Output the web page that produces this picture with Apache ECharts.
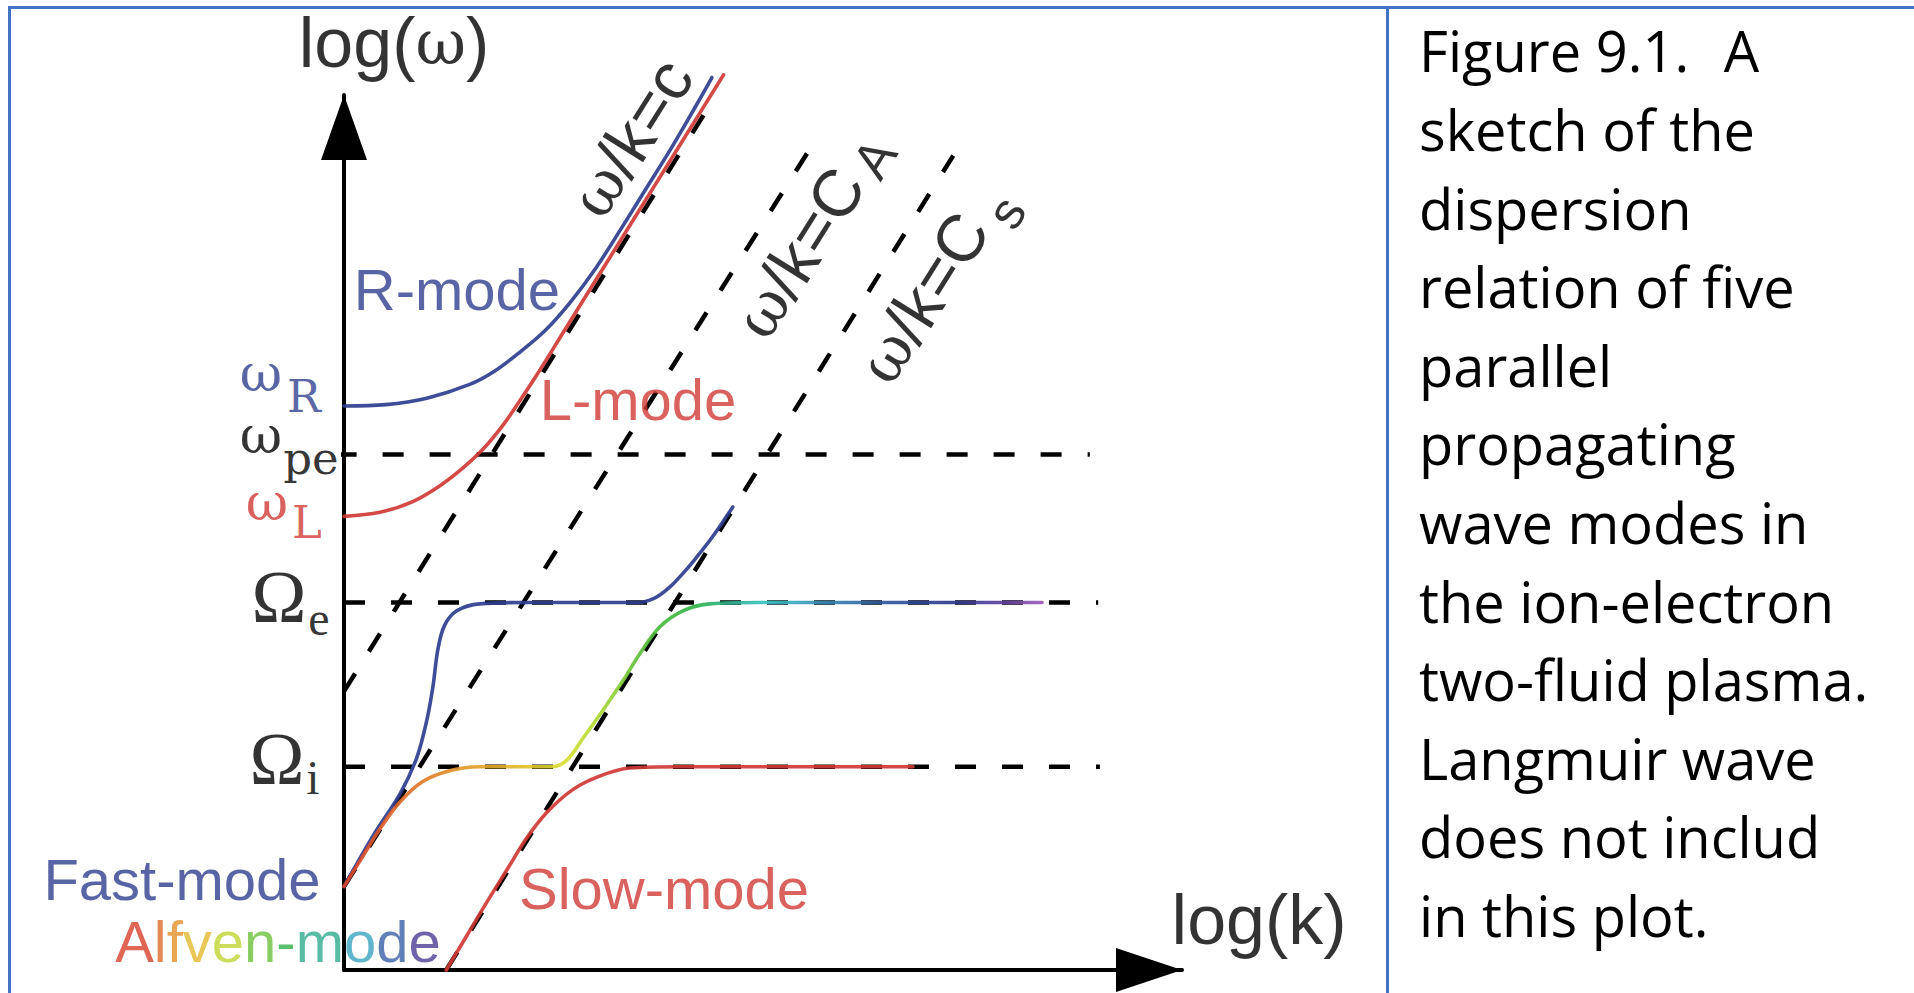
<!DOCTYPE html>
<html><head><meta charset="utf-8">
<script src="https://cdn.jsdelivr.net/npm/echarts@6/dist/echarts.min.js"></script>
<style>
html,body{margin:0;padding:0;background:#fff;}
#frame{position:absolute;left:0;top:0;width:1914px;height:993px;overflow:hidden;background:#fff;}
#chart{position:absolute;left:0;top:0;width:1914px;height:993px;}
.b{position:absolute;background:#4472c4;}
</style></head><body>
<div id="frame">
<div class="b" style="left:8px;top:6px;width:1906px;height:3px"></div>
<div class="b" style="left:8px;top:6px;width:3px;height:987px"></div>
<div class="b" style="left:1386px;top:6px;width:3px;height:987px"></div>
<div id="chart"></div>
</div>
<script>
// ---------- data (x = log k, y = log omega, arbitrary log units) ----------
const levelMain = ['ω', 'ω', 'ω', 'Ω', 'Ω'];
const levelSub = ['R', 'pe', 'L', 'e', 'i'];
const levelValues = [4.19, 3.83, 3.37, 2.73, 1.51];
const dashedLevelIdx = [1, 3, 4];           // omega_pe, Omega_e, Omega_i
const dashedLevelStart = [-0.1, 0, 0];
const dashedLevelEnd = [8.9, 9.0, 9.02];

const cLine = [[0, 2.07], [4.40, 6.46]];      // w/k = c
const caLine = [[0, 0.62], [5.55, 6.09]];     // w/k = C_A
const csLine = [[1.22, 0], [7.27, 6.05]];     // w/k = C_s

const rMode = [[0, 4.19], [0.5, 4.20], [1.0, 4.25], [1.5, 4.35], [1.8, 4.45], [2.1, 4.59], [2.4, 4.75], [2.7, 4.96], [3.0, 5.21], [3.3, 5.50], [3.6, 5.80], [3.9, 6.10], [4.2, 6.42], [4.39, 6.63]];
const lMode = [[0, 3.37], [0.43, 3.40], [0.82, 3.48], [1.15, 3.60], [1.42, 3.73], [1.66, 3.87], [1.90, 4.05], [2.10, 4.23], [2.30, 4.42], [2.61, 4.73], [2.97, 5.09], [3.29, 5.41], [3.69, 5.81], [4.09, 6.21], [4.53, 6.65]];
const fastMode = [[0, 0.62], [0.35, 1.00], [0.67, 1.31], [0.87, 1.58], [0.99, 1.86], [1.06, 2.10], [1.12, 2.38], [1.20, 2.56], [1.35, 2.67], [1.62, 2.72], [2.2, 2.73], [3.0, 2.73], [3.5, 2.73], [3.7, 2.76], [3.88, 2.84], [4.05, 2.95], [4.2, 3.06], [4.4, 3.22], [4.64, 3.44]];
const alfvenMode = [[0, 0.62], [0.20, 0.82], [0.43, 1.05], [0.67, 1.25], [0.94, 1.40], [1.26, 1.48], [1.62, 1.51], [2.0, 1.51], [2.49, 1.51], [2.66, 1.56], [2.85, 1.72], [3.09, 1.93], [3.33, 2.15], [3.53, 2.35], [3.77, 2.55], [4.05, 2.67], [4.37, 2.72], [4.96, 2.73], [6.0, 2.73], [7.0, 2.73], [8.33, 2.73]];
const slowMode = [[1.22, 0], [1.47, 0.26], [1.71, 0.51], [1.95, 0.75], [2.18, 0.98], [2.42, 1.17], [2.73, 1.34], [3.05, 1.44], [3.41, 1.50], [4.0, 1.51], [5.0, 1.51], [6.79, 1.51]];

const curveLabelText = ['R-mode', 'L-mode', 'Fast-mode', 'Slow-mode'];
const curveLabelAt = [[1.348, 5.052], [3.508, 4.235], [-1.933, 0.669], [3.819, 0.609]];
const alfvenLabelLetters = ['A', 'l', 'f', 'v', 'e', 'n', '-', 'm', 'o', 'd', 'e'];
const alfvenLabelAt = [-0.788, 0.215];
const speedLabelMain = ['/k=c', '/k=C', '/k=C'];
const speedLabelSub = ['', 'A', 's'];
const speedLabelAt = [[3.425, 6.181], [5.43, 5.327], [6.909, 4.993]];
const speedSubAt = [null, [6.33, 6.03], [7.90, 5.63]];
const axisNameK = 'log(k)';
const axisNameW = ['log(', 'ω', ')'];
const axisNameKAt = [10.92, 0.371];
const axisNameWAt = [0.597, 6.887];

const captionLines = ['Figure 9.1. \u00a0\u200aA', 'sketch of the', 'dispersion', 'relation of five', 'parallel', 'propagating', 'wave modes in', 'the ion-electron', 'two-fluid plasma.', 'Langmuir wave', 'does not includ', 'in this plot.'];

// ---------- styles ----------
const BLUE = '#2f3d8e', RED = '#cf3a36', BLACK = '#000';
const SERIF = "'Liberation Serif','DejaVu Serif',serif";
const WSERIF = "'DejaVu Serif','Liberation Serif',serif";
const SANS = "'Liberation Sans',Arial,sans-serif";
const alfvenColors = ['#d7402b', '#df6a2a', '#e4902b', '#e2b82d', '#bfd433', '#6cc13b', '#33b24a', '#2eaa8c', '#38a3bf', '#3a5fa6', '#4e3c94'];
const levelColors = [BLUE, BLACK, RED, BLACK, BLACK];
const levelMainOffset = [[-83, -33], [-83, -19], [-77, -14], [-65, -6], [-67, -8]];
const levelSubOffset = [[-40, -9], [-33, 4], [-37, 6], [-25, 16], [-31, 11]];
const curveLabelColors = [BLUE, RED, BLUE, RED];

const chart = echarts.init(document.getElementById('chart'), null, {renderer: 'svg'});

const dash = [21, 26];
function dashed(name, data) {
  return {type: 'line', name, data, symbol: 'none', clip: false, silent: true, z: 2,
    lineStyle: {color: BLACK, width: 4.5, type: dash, cap: 'butt'}};
}
function curve(name, data, color) {
  return {type: 'line', name, data, symbol: 'none', clip: false, silent: true, z: 3,
    smooth: 0.35,
    lineStyle: {color, width: 3.6, opacity: 0.92, cap: 'round', join: 'round'}};
}

const series = [];
dashedLevelIdx.forEach((li, j) => {
  series.push(dashed('lvl' + j, [[dashedLevelStart[j], levelValues[li]], [dashedLevelEnd[j], levelValues[li]]]));
});
series.push(dashed('c', cLine), dashed('cA', caLine), dashed('cs', csLine));

const alfvenGrad = new echarts.graphic.LinearGradient(0, 0, 1, 0, [
  {offset: 0, color: '#d8402b'}, {offset: 0.05, color: '#dc5a2a'}, {offset: 0.12, color: '#e07f2b'},
  {offset: 0.195, color: '#e2a22c'}, {offset: 0.27, color: '#e0c52e'}, {offset: 0.32, color: '#d6e030'},
  {offset: 0.37, color: '#a8d636'}, {offset: 0.42, color: '#62c13c'}, {offset: 0.50, color: '#2fb345'},
  {offset: 0.55, color: '#2eb28a'}, {offset: 0.61, color: '#3cc4c8'}, {offset: 0.68, color: '#3a8fb5'},
  {offset: 0.77, color: '#2f5a9e'}, {offset: 0.87, color: '#2e3a8e'}, {offset: 0.94, color: '#5a3f9c'},
  {offset: 1, color: '#9a5cb8'}
]);
series.push(curve('R-mode', rMode, BLUE), curve('L-mode', lMode, RED), curve('Fast-mode', fastMode, BLUE),
  curve('Alfven-mode', alfvenMode, alfvenGrad), curve('Slow-mode', slowMode, RED));

// ---------- text annotations (scatter points carrying labels) ----------
const labels = [];
function lab(value, formatter, rich, rotate, offset) {
  labels.push({value, label: {show: true, formatter, rich, rotate: rotate || 0, offset: offset || [0, 0],
    position: [0, 0], align: 'center', verticalAlign: 'middle'}});
}
levelValues.forEach((v, i) => {
  const isOmega = levelMain[i] === 'Ω';
  const mainStyle = isOmega
    ? {fontFamily: SERIF, fontSize: 74, lineHeight: 50, color: levelColors[i]}
    : {fontFamily: WSERIF, fontSize: 52, lineHeight: 32, color: levelColors[i]};
  const subStyle = isOmega
    ? {fontFamily: SERIF, fontSize: 48, lineHeight: 30, color: levelColors[i]}
    : {fontFamily: WSERIF, fontSize: 45, lineHeight: 30, color: levelColors[i]};
  lab([0, v], '{m|' + levelMain[i] + '}', {m: mainStyle}, 0, levelMainOffset[i]);
  lab([0, v], '{s|' + levelSub[i] + '}', {s: subStyle}, 0, levelSubOffset[i]);
});
curveLabelText.forEach((t, i) => {
  lab(curveLabelAt[i], '{m|' + t + '}', {m: {fontFamily: SANS, fontSize: 58, color: curveLabelColors[i]}});
});
const aRich = {};
alfvenColors.forEach((c, i) => { aRich['a' + i] = {fontFamily: SANS, fontSize: 58, color: c}; });
lab(alfvenLabelAt, alfvenLabelLetters.map((ch, i) => '{a' + i + '|' + ch + '}').join(''), aRich);
speedLabelMain.forEach((t, i) => {
  lab(speedLabelAt[i], '{w|ω}{t|' + t + '}', {w: {fontFamily: WSERIF, fontSize: 60, color: BLACK}, t: {fontFamily: SANS, fontSize: 66, color: BLACK}}, 58);
  if (speedLabelSub[i]) lab(speedSubAt[i], '{s|' + speedLabelSub[i] + '}', {s: {fontFamily: SANS, fontSize: 52, color: BLACK}}, 58);
});
lab(axisNameWAt, '{t|' + axisNameW[0] + '}{w|' + axisNameW[1] + '}{t|' + axisNameW[2] + '}',
  {t: {fontFamily: SANS, fontSize: 70, color: BLACK}, w: {fontFamily: WSERIF, fontSize: 62, color: BLACK}});
lab(axisNameKAt, '{t|' + axisNameK + '}', {t: {fontFamily: SANS, fontSize: 70, color: BLACK}});

series.push({type: 'scatter', name: 'labels', data: labels, symbolSize: 0, clip: false, silent: true, z: 5,
  itemStyle: {color: 'transparent'}});

const axisCommon = {
  type: 'value', axisTick: {show: false}, axisLabel: {show: false}, splitLine: {show: false}
};
chart.setOption({
  animation: false,
  backgroundColor: 'transparent',
  title: {
    text: captionLines.join('\n'), left: 1414, top: 6,
    textStyle: {fontFamily: "'Open Sans',sans-serif", fontSize: 56, fontWeight: 'normal', color: BLACK, lineHeight: 78.6}
  },
  grid: {left: 344, top: 95, width: 838, height: 875, containLabel: false},
  xAxis: Object.assign({}, axisCommon, {min: 0, max: 10,
    axisLine: {show: true, onZero: false, symbol: ['none', 'triangle'], symbolSize: [44, 66], symbolOffset: [0, -33],
      lineStyle: {color: BLACK, width: 4}}}),
  yAxis: Object.assign({}, axisCommon, {min: 0, max: 6.5,
    axisLine: {show: true, onZero: false, symbol: ['none', 'triangle'], symbolSize: [46, 65], symbolOffset: [0, -32.5],
      lineStyle: {color: BLACK, width: 4}}}),
  series
});
</script>
</body></html>
